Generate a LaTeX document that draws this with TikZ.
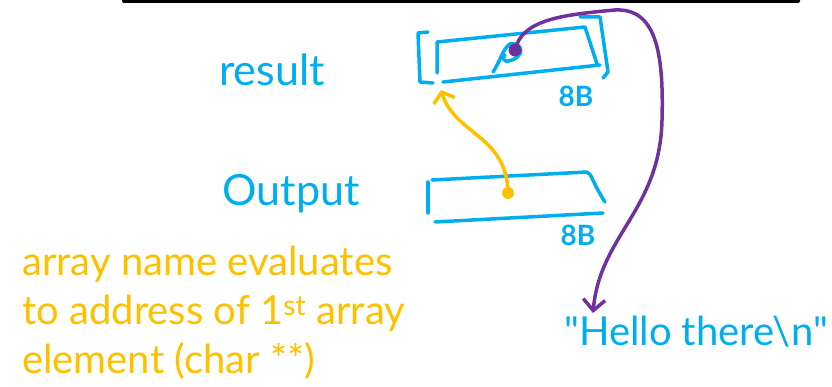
\documentclass[tikz,border=0pt]{standalone}
\usepackage{fontspec}
\setmainfont{Lato}
\usetikzlibrary{arrows.meta}
\definecolor{inkblue}{HTML}{00AEEF}
\definecolor{inkyellow}{HTML}{FFC000}
\definecolor{inkpurple}{HTML}{7030A0}
\tikzset{
  pen/.style={line width=3.5pt,line cap=round,line join=round},
  bluepen/.style={pen,inkblue},
  blueword/.style={text=inkblue,font=\fontsize{43}{43}\selectfont,inner sep=0pt},
  stringword/.style={text=inkblue,font=\fontsize{40}{40}\selectfont,inner sep=0pt,anchor=west},
  sizeword/.style={text=inkblue,font=\bfseries\fontsize{28}{28}\selectfont,inner sep=0pt},
  note/.style={text=inkyellow,font=\fontsize{40}{49}\selectfont,inner sep=0pt,align=left,anchor=north west}
}
\begin{document}
\begin{tikzpicture}[x=1pt,y=-1pt]
  \useasboundingbox (0,0) rectangle (832,387);
  \fill[black,rounded corners=2pt] (122,-4) rectangle (800,3);
  \node[blueword] (result) at (272,70) {result};
  \node[blueword] (output) at (291,194) {Output};
  \begin{scope}[bluepen]
    \draw (428,32) -- (418,33) -- (420,82) -- (433,83);
    \draw (580,17) -- (600,17) -- (608,72) -- (603,78);
    \draw (437,73) -- (437,42) -- (585,27) -- (597,64);
    \draw (443,82) -- (600,65);
    \draw (493,72) .. controls (500,62) and (503,48) .. (510,44)
      .. controls (520,42) and (525,52) .. (516,58)
      .. controls (508,63) and (500,62) .. (505,55);
    \draw (428,213) -- (428,182);
    \draw (432,180) -- (587,172) .. controls (592,174) and (592,182) .. (605,202);
    \draw (435,222) -- (603,213);
  \end{scope}
  \node[sizeword] (size1) at (576,96) {8B};
  \node[sizeword] (size2) at (578,235) {8B};
  \coordinate (resdot) at (515,50);
  \coordinate (outdot) at (508,193);
  \coordinate (resptr) at (441,90);
  \node[stringword] (hello) at (564,332) {\textquotedbl Hello there\textbackslash n\textquotedbl};
  \fill[inkyellow] (outdot) circle (6pt);
  \fill[inkpurple] (resdot) circle (6.5pt);
  \draw[pen,inkyellow,-{Straight Barb[length=9pt,width=22pt]}]
    (outdot) .. controls (507,135) and (455,135) .. (resptr);
  \draw[pen,inkpurple,-{Straight Barb[length=11pt,width=22pt]}]
    (resdot) .. controls (522,20) and (560,15) .. (615,10)
    .. controls (655,8) and (664,50) .. (662,120)
    .. controls (660,210) and (600,235) .. (593,313);
  \node[note] (remark) at (22,246) {array name evaluates\\to address of 1\textsuperscript{st} array\\element (char **)};
\end{tikzpicture}
\end{document}
